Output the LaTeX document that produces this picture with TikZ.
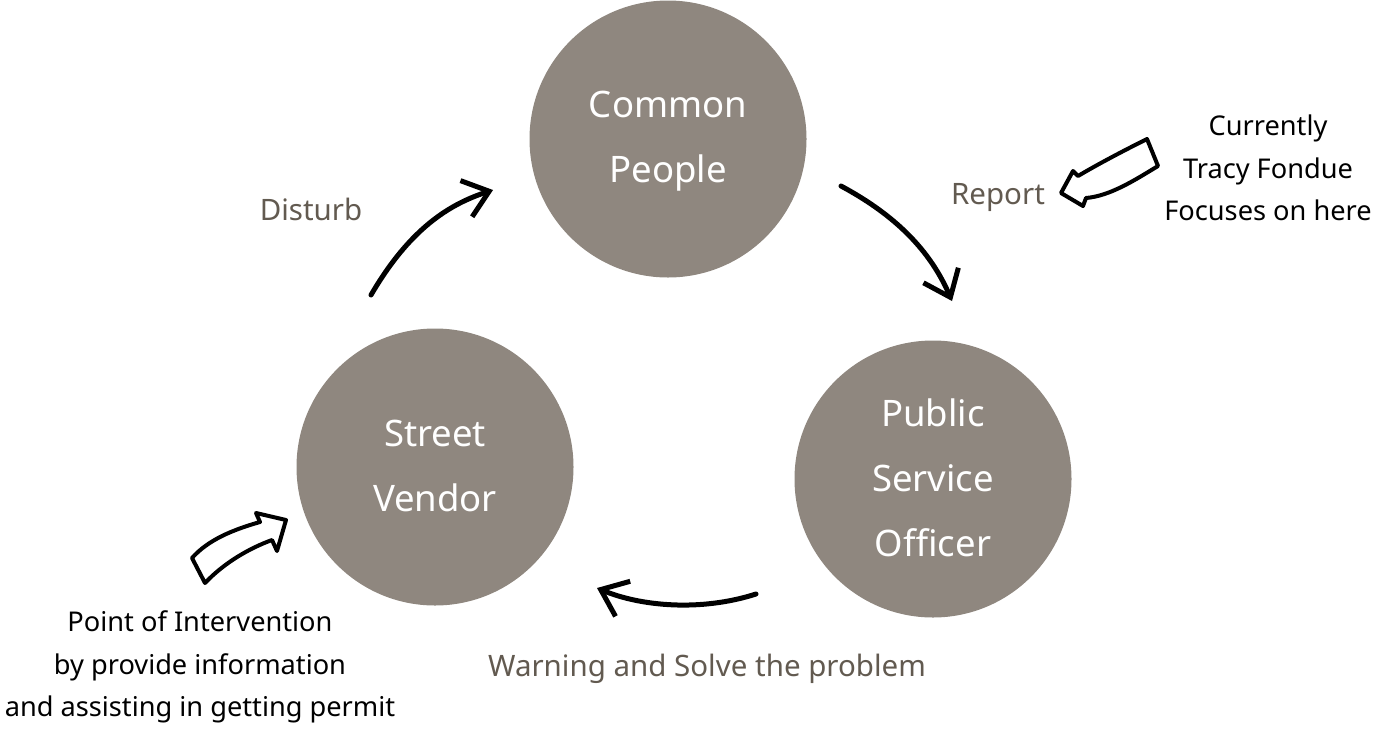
\documentclass[tikz,border=0pt]{standalone}
\usepackage{fontspec}
\setmainfont{Noto Sans}
\usetikzlibrary{arrows.meta}
\definecolor{circ}{HTML}{8F877F}
\definecolor{lab}{HTML}{625A50}
\tikzset{
  actor/.style={circle, fill=circ, minimum size=277pt, inner sep=0pt},
  actortext/.style={text=white, align=center, font=\fontsize{36.5}{65}\selectfont},
  flowlab/.style={text=lab, font=\fontsize{29.5}{34}\selectfont},
  note/.style={text=black, align=center, font=\fontsize{27.2}{42.5}\selectfont},
  flow/.style={line width=5pt, line cap=round, -{Straight Barb[length=24pt,width=38pt,line width=5pt]}},
  hollow/.style={draw=black, fill=white, line width=4pt, line join=round}
}
\begin{document}
\begin{tikzpicture}[x=1pt,y=-1pt]
\useasboundingbox (0,0) rectangle (1378,737);
\node[actor] (cp) at (668,139) {};
\node[actor] (sv) at (435,467) {};
\node[actor] (pso) at (933,479) {};
\node[actortext] (cpt) at (668,141.5) {Common\\People};
\node[actortext] (svt) at (435,466) {Street\\Vendor};
\node[actortext] (psot) at (933,478) {Public\\Service\\Officer};

\node[flowlab] (dist) at (311,209) {Disturb};
\node[flowlab] (rep) at (998,198) {Report};
\node[flowlab] (warn) at (707,669) {Warning and Solve the problem};

\node[note] (cur) at (1268,168) {Currently\\Tracy Fondue\\Focuses on here};
\node[note] (poi) at (200,667) {Point of Intervention\\by provide information\\and assisting in getting permit};

\coordinate (d1) at (371,295);
\coordinate (d2) at (493,190);
\draw[flow] (d1) .. controls (410,228) and (450,204) .. (d2);
\coordinate (r1) at (841,186);
\coordinate (r2) at (952,301);
\draw[flow] (r1) .. controls (895,215) and (930,250) .. (r2);
\coordinate (w1) at (756,594);
\coordinate (w2) at (597,588);
\draw[flow] (w1) .. controls (700,612) and (640,606) .. (w2);

% hollow arrow top right
\draw[hollow] (1061,193) -- (1073,171) -- (1078,176)
  .. controls (1100,163) and (1125,150) .. (1147,139)
  -- (1158,166)
  .. controls (1135,180) and (1110,196) .. (1086,198)
  -- (1083,206) -- cycle;
% hollow arrow bottom left
\draw[hollow] (286,520) -- (256,513) -- (260,522)
  .. controls (232,530) and (208,540) .. (192,558)
  -- (205,583)
  .. controls (225,562) and (250,548) .. (272,540)
  -- (277,551) -- cycle;
\end{tikzpicture}
\end{document}
